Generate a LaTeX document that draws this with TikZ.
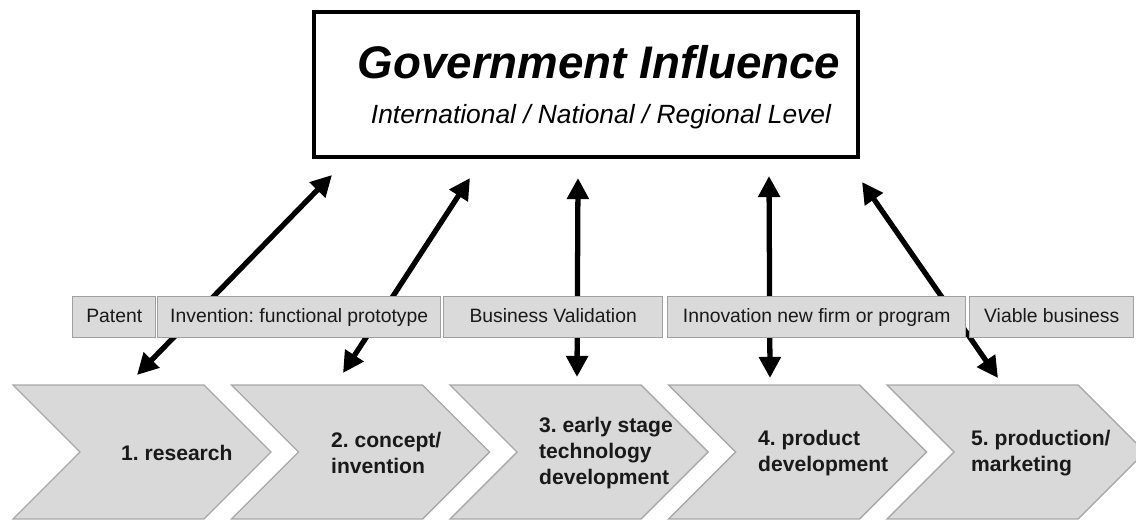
\documentclass[tikz,border=0pt]{standalone}
\usepackage{fontspec}
\setmainfont{Liberation Sans}
\usetikzlibrary{arrows.meta}
\definecolor{chevfill}{HTML}{D9D9D9}
\definecolor{chevline}{HTML}{A8A8A8}
\definecolor{tagfill}{HTML}{DADADA}
\definecolor{tagline}{HTML}{A0A0A0}

\begin{document}
\frenchspacing
\begin{tikzpicture}[x=0.02cm, y=-0.02cm,
  chev/.style={fill=chevfill, draw=chevline, line width=0.8pt},
  stage/.style={anchor=west, align=left, text=black!90,
    font=\fontsize{12}{15}\selectfont\bfseries},
  tag/.style={draw=tagline, fill=tagfill, line width=0.8pt, anchor=north west,
    minimum height=0.82cm, inner sep=0pt, text=black!90,
    text height=8pt, text depth=2.5pt,
    font=\fontsize{11}{13}\selectfont},
  link/.style={{Triangle[length=12pt,width=12pt]}-{Triangle[length=12pt,width=12pt]},
    line width=3pt}]
\useasboundingbox (0,0) rectangle (1136,520);

% government box
\node at (586,84.5) [draw, line width=1.8pt, minimum width=10.88cm, minimum height=2.9cm] (gov) {};
\node at (599,62) [font=\fontsize{26}{30}\selectfont\bfseries\itshape] (govtitle) {Government Influence};
\node at (601,117) [font=\fontsize{15}{18}\selectfont\itshape] (govlevel) {International / National / Regional Level};

% stages
\foreach \x in {13, 231.5, 450, 668.5, 887}
  \draw [chev] (\x,385) -- ++(191,0) -- ++(67,67) -- ++(-67,67) -- ++(-191,0) -- ++(67,-67) -- cycle;
\node at (115,453) [stage] (s1) {1. research};
\node at (325,453) [stage] (s2) {2. concept/\\invention};
\node at (533,453) [stage] (s3) {3. early stage\\technology\\development};
\node at (752,453) [stage] (s4) {4. product\\development};
\node at (965,453) [stage] (s5) {5. production/\\marketing};

% arrow ends
\coordinate (up1) at (332,175);
\coordinate (up2) at (470,178);
\coordinate (up3) at (578,178);
\coordinate (up4) at (769,176);
\coordinate (up5) at (862,182);
\coordinate (dn1) at (137,375);
\coordinate (dn2) at (343,373);
\coordinate (dn3) at (577,377);
\coordinate (dn4) at (770,378);
\coordinate (dn5) at (998,378);
\foreach \i in {1,...,5}
  \draw [link] (dn\i) -- (up\i);

% outcomes
\node at (72,296) [tag, minimum width=1.66cm] (t1) {Patent};
\node at (157,296) [tag, minimum width=5.66cm] (t2) {Invention: functional prototype};
\node at (443,296) [tag, minimum width=4.38cm] (t3) {Business Validation};
\node at (667,296) [tag, minimum width=5.96cm] (t4) {Innovation new firm or program};
\node at (969,296) [tag, minimum width=3.28cm] (t5) {Viable business};
\end{tikzpicture}
\end{document}
